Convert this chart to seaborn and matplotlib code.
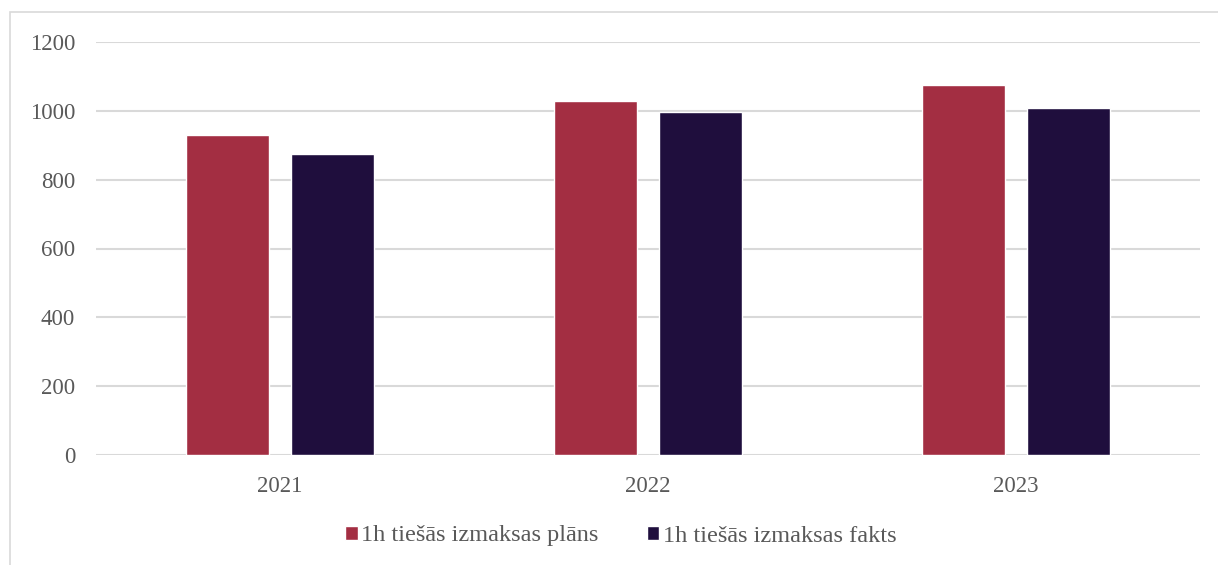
import numpy as np
import pandas as pd
import seaborn as sns
import matplotlib
matplotlib.use('Agg')
import matplotlib.pyplot as plt
from matplotlib.patches import Rectangle

# dati
years = ['2021', '2022', '2023']
plans = [930, 1028, 1076]
fakts = [876, 998, 1009]
series = ['1h tiešās izmaksas plāns', '1h tiešās izmaksas fakts']
colors = ['#A32E42', '#1F0E3D']

df = pd.DataFrame({
    'gads': years * 2,
    'vertiba': plans + fakts,
    'sērija': [series[0]] * 3 + [series[1]] * 3,
})

sns.set_style('white')
plt.rcParams['font.family'] = ['Liberation Serif', 'DejaVu Serif']

fig = plt.figure(figsize=(12.18, 5.65), dpi=100)
ax = fig.add_axes([96/1218, 1-455/565, (1200-96)/1218, (455-42)/565])

sns.barplot(data=df, x='gads', y='vertiba', hue='sērija', palette=colors,
            width=0.568, gap=0.206, ax=ax, saturation=1, legend=True)

ax.set_ylim(0, 1200)
ax.set_yticks(np.arange(0, 1201, 200))
ax.set_xlim(-0.5, 2.5)
ax.yaxis.grid(True, color='#D9D9D9', linewidth=1.5)
ax.set_axisbelow(True)
for s in ax.spines.values():
    s.set_visible(False)
ax.axhline(0, color='#D9D9D9', linewidth=2, zorder=0.5)
ax.set_xlabel('')
ax.set_ylabel('')
ax.tick_params(axis='both', length=0, labelsize=16.5, labelcolor='#595959')
ax.tick_params(axis='y', pad=15)
ax.tick_params(axis='x', pad=15)

ax.legend_.remove()
handles, labels = ax.get_legend_handles_labels()
fig.legend(handles, labels, loc='center', bbox_to_anchor=(621/1218, 1-536/565),
           ncol=2, frameon=False, fontsize=17.5, labelcolor='#595959',
           handlelength=0.5, handleheight=0.5, handletextpad=0.15, columnspacing=2.0)

# ramis ap diagrammu
fig.patches.append(Rectangle((10/1218, -0.1), 1.2, 1-12/565+0.1, transform=fig.transFigure,
                             fill=False, edgecolor='#D9D9D9', linewidth=1.2))

fig.savefig('out.png', dpi=100)
